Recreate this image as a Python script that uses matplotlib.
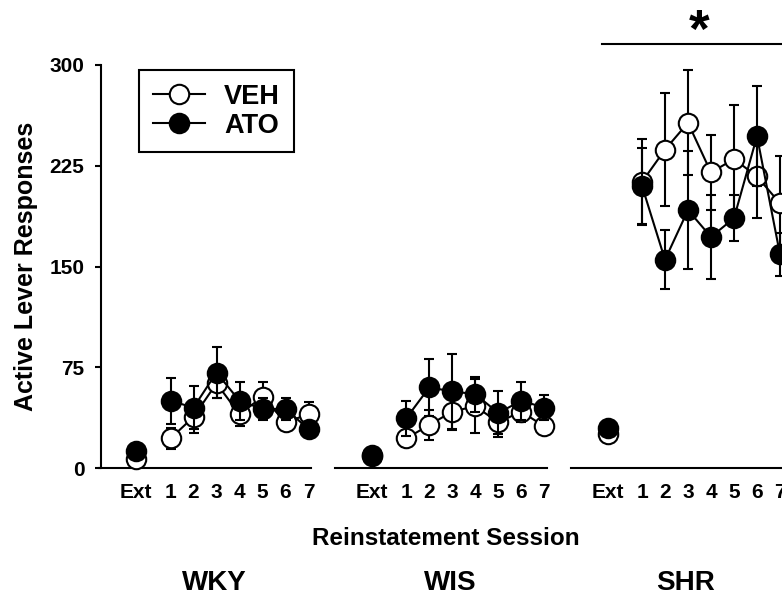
import matplotlib.pyplot as plt
from matplotlib.lines import Line2D
import matplotlib.transforms as mtransforms
import numpy as np

plt.rcParams['font.family'] = ['Liberation Sans', 'DejaVu Sans']
plt.rcParams['font.weight'] = 'bold'

groups = ['WKY', 'WIS', 'SHR']
sessions = ['Ext', '1', '2', '3', '4', '5', '6', '7']

# mean active lever responses (Ext, sessions 1-7) and SEM
wky_veh = [7, 22, 38, 63, 40, 53, 34, 40]
wky_veh_err = [2, 8, 12, 11, 9, 11, 5, 9]
wky_ato = [13, 50, 45, 71, 50, 44, 44, 29]
wky_ato_err = [3, 17, 16, 19, 14, 8, 8, 4]

wis_veh = [9, 22, 32, 42, 46, 34, 42, 31]
wis_veh_err = [1, 6, 11, 14, 20, 11, 8, 5]
wis_ato = [10, 37, 60, 57, 55, 41, 50, 45]
wis_ato_err = [2, 13, 21, 28, 13, 16, 14, 9]

shr_veh = [25, 213, 237, 257, 220, 230, 217, 197]
shr_veh_err = [3, 32, 42, 39, 28, 40, 31, 35]
shr_ato = [30, 210, 155, 192, 172, 186, 247, 159]
shr_ato_err = [4, 28, 22, 44, 31, 17, 37, 16]

veh = [wky_veh, wis_veh, shr_veh]
veh_err = [wky_veh_err, wis_veh_err, shr_veh_err]
ato = [wky_ato, wis_ato, shr_ato]
ato_err = [wky_ato_err, wis_ato_err, shr_ato_err]

# layout: Ext sits a bit apart from session 1
session_pos = np.array([0, 1.5, 2.5, 3.5, 4.5, 5.5, 6.5, 7.5])
group_offset = [0, 10.25, 20.5]

fig = plt.figure(figsize=(7.82, 5.97), dpi=100)
ax = fig.add_axes([101 / 782, 129 / 597, 681 / 782, 403 / 597])

styles = [('VEH', veh, veh_err, 'white', 2), ('ATO', ato, ato_err, 'black', 5)]
for name, means, errs, fc, z in styles:
    for off, m, e in zip(group_offset, means, errs):
        x = session_pos + off
        ax.errorbar(x, m, yerr=e, fmt='none', ecolor='black', elinewidth=1.5,
                    capsize=3.5, capthick=1.5, zorder=z, clip_on=False)
        ax.plot(x[1:], m[1:], '-', color='black', lw=1.5, zorder=z + 1)
        ax.plot(x, m, 'o', ms=14, mfc=fc, mec='black', mew=1.5,
                zorder=z + 2, clip_on=False)

ax.set_xlim(-35 / 23, 681 / 23 - 35 / 23)
ax.set_ylim(0, 300)
ax.set_yticks([0, 75, 150, 225, 300])
ax.tick_params(axis='y', direction='out', length=4, width=1.5,
               labelsize=15, pad=8)

xt = np.concatenate([session_pos + off for off in group_offset])
ax.set_xticks(xt)
ax.set_xticklabels(sessions * len(groups))
ax.tick_params(axis='x', length=0, labelsize=15, pad=11)

for s in ['top', 'right', 'bottom']:
    ax.spines[s].set_visible(False)
ax.spines['left'].set_linewidth(1.5)

# broken baseline, one segment per group
for off in group_offset:
    ax.plot([off - 1.6, off + 7.6], [0, 0], color='black', lw=1.5,
            clip_on=False, zorder=1)

ax.set_ylabel('Active Lever Responses', fontsize=18, fontweight='bold')
ax.yaxis.set_label_coords(-0.093, 0.5)
ax.set_xlabel('Reinstatement Session', fontsize=17.5, fontweight='bold',
              va='center')
ax.xaxis.set_label_coords(0.507, -0.174)

trans = mtransforms.blended_transform_factory(ax.transData, ax.transAxes)
for off, g in zip(group_offset, groups):
    ax.text(off + 3.4, -0.285, g, transform=trans, ha='center', va='center',
            fontsize=20, fontweight='bold')

# significance bar over SHR
ax.plot([group_offset[2] - 0.25, group_offset[2] + 12], [1.052, 1.052],
        color='black', lw=1.5, transform=trans, clip_on=False)
ax.text(group_offset[2] + 4, 1.045, '*', transform=trans, ha='center',
        va='baseline', fontsize=38, fontweight='bold')

handles = [Line2D([], [], color='black', lw=1.5, marker='o', ms=14,
                  mfc='white', mec='black', mew=1.5),
           Line2D([], [], color='black', lw=1.5, marker='o', ms=14,
                  mfc='black', mec='black', mew=1.5)]
leg = ax.legend(handles, ['VEH', 'ATO'], loc='upper left',
                bbox_to_anchor=(38 / 681, 398 / 403), fontsize=19.5,
                frameon=True, fancybox=False, framealpha=1, edgecolor='black',
                handlelength=1.95, handletextpad=0.7, labelspacing=0.12,
                borderpad=0.5, borderaxespad=0)
leg.get_frame().set_linewidth(1.5)

fig.savefig('out.png', dpi=100)
